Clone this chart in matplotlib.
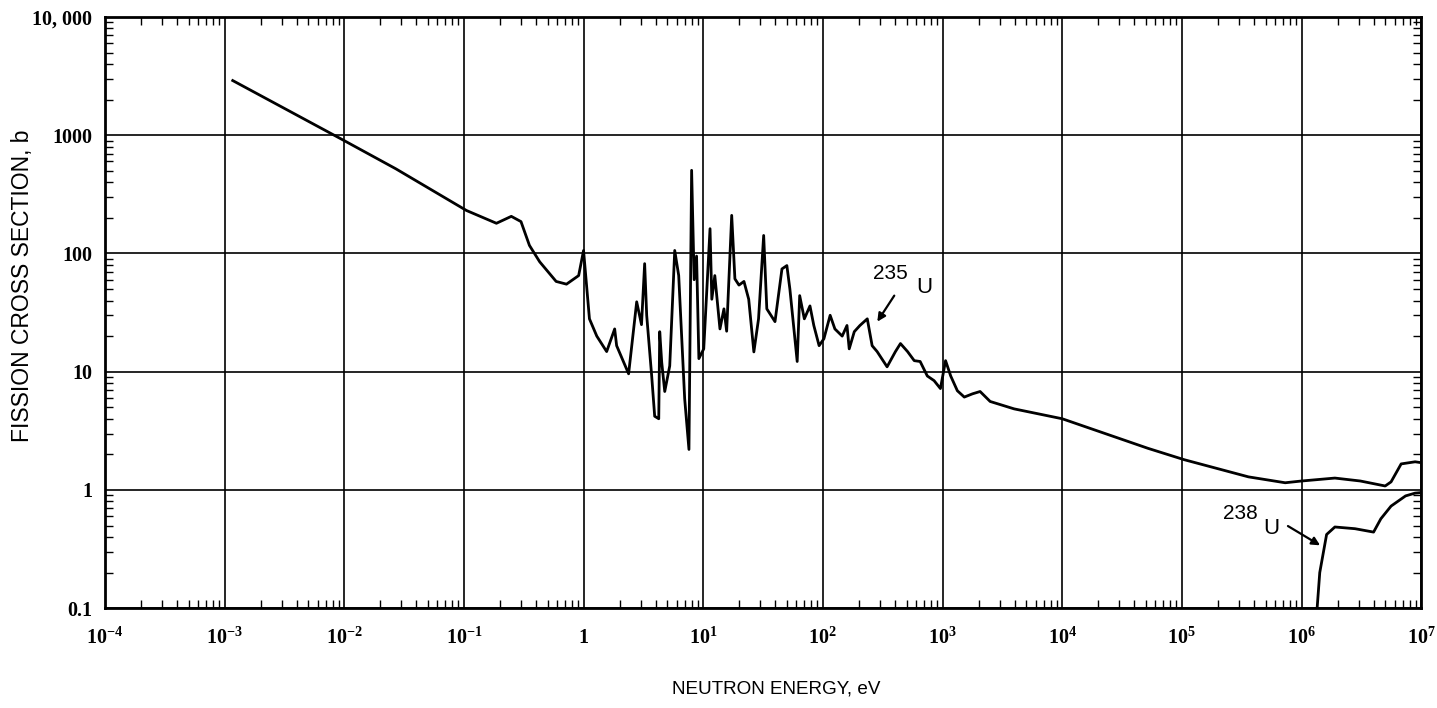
import matplotlib
matplotlib.use("Agg")
import matplotlib.pyplot as plt
from matplotlib.ticker import LogLocator, FixedLocator, NullFormatter

# ---- data ----
u235_energy = [1.17e-3, 1e-2, 0.027, 0.105, 0.187, 0.249, 0.30, 0.353, 0.43, 0.59,
               0.72, 0.91, 1.0, 1.12, 1.29, 1.56, 1.82, 1.89, 2.38, 2.78,
               3.05, 3.24, 3.37, 3.71, 3.93, 4.25, 4.33, 4.5, 4.77, 5.25,
               5.78, 6.24, 7.0, 7.6, 8.0, 8.4, 8.8, 9.2, 10.1, 11.4,
               11.8, 12.5, 13.8, 14.9, 15.7, 17.3, 18.4, 19.9, 21.9, 24,
               26.5, 29, 32, 34, 39.8, 45.5, 50, 53, 61, 64,
               70, 78, 84, 93, 102, 115, 126, 145, 159, 166,
               183, 204, 235, 258, 284, 344, 404, 445, 510, 580,
               650, 746, 850, 960, 1060, 1170, 1330, 1520, 1780, 2060,
               2500, 3960, 1e4, 5.2e4, 1.05e5, 3.6e5, 7.3e5, 1e6, 1.9e6, 3.1e6,
               5.0e6, 5.6e6, 6.8e6, 8.9e6, 1e7]
u235_sigma = [2900, 900, 520, 231, 180, 206, 186, 117, 85, 58,
              55, 65, 106, 28, 20, 14.8, 23, 16.6, 9.6, 39,
              25, 82, 30, 9.2, 4.2, 4.0, 21.8, 12, 6.8, 11.2,
              106, 65, 5.9, 2.2, 505, 60, 95, 12.9, 15.6, 162,
              41, 65, 23, 34, 22, 210, 61, 54, 58, 41,
              14.7, 28, 142, 34, 26.5, 74, 79, 50, 12.2, 44,
              28, 36, 24.6, 16.6, 19, 30, 23, 20, 24.6, 15.6,
              21.8, 24.6, 28, 16.6, 14.8, 11, 14.8, 17.3, 14.8, 12.4,
              12.2, 9.2, 8.4, 7.2, 12.4, 9.2, 6.9, 6.1, 6.5, 6.8,
              5.6, 4.85, 4.0, 2.25, 1.8, 1.29, 1.15, 1.19, 1.26, 1.19,
              1.08, 1.17, 1.66, 1.73, 1.7]

u238_energy = [1.3e6, 1.35e6, 1.42e6, 1.62e6, 1.9e6, 2.8e6, 4.0e6, 4.6e6, 5.6e6, 7.4e6, 8.9e6, 1e7]
u238_sigma = [0.07, 0.1, 0.2, 0.42, 0.486, 0.47, 0.44, 0.57, 0.73, 0.89, 0.94, 0.95]

x_ticks = [1e-4, 1e-3, 1e-2, 1e-1, 1, 1e1, 1e2, 1e3, 1e4, 1e5, 1e6, 1e7]
x_tick_labels = [r'$\mathregular{10^{-4}}$', r'$\mathregular{10^{-3}}$', r'$\mathregular{10^{-2}}$',
                 r'$\mathregular{10^{-1}}$', '1', r'$\mathregular{10^{1}}$', r'$\mathregular{10^{2}}$',
                 r'$\mathregular{10^{3}}$', r'$\mathregular{10^{4}}$', r'$\mathregular{10^{5}}$',
                 r'$\mathregular{10^{6}}$', r'$\mathregular{10^{7}}$']
y_ticks = [0.1, 1, 10, 100, 1000, 10000]
y_tick_labels = ['0.1', '1', '10', '100', '1000', '10, 000']

plt.rcParams['mathtext.fontset'] = 'custom'
plt.rcParams['mathtext.rm'] = 'Liberation Serif:bold'

# ---- figure ----
fig = plt.figure(figsize=(14.37, 7.08), dpi=100)
ax = fig.add_axes([0.073, 0.141, 0.916, 0.835])

ax.set_xscale('log')
ax.set_yscale('log')
ax.set_xlim(1e-4, 1e7)
ax.set_ylim(0.1, 1e4)

ax.plot(u235_energy, u235_sigma, color='black', lw=2.0, solid_joinstyle='round')
ax.plot(u238_energy, u238_sigma, color='black', lw=2.0, clip_on=True)

ax.xaxis.set_major_locator(FixedLocator(x_ticks))
ax.set_xticklabels(x_tick_labels)
ax.yaxis.set_major_locator(FixedLocator(y_ticks))
ax.set_yticklabels(y_tick_labels)
ax.xaxis.set_minor_locator(LogLocator(base=10, subs=range(2, 10), numticks=30))
ax.yaxis.set_minor_locator(LogLocator(base=10, subs=range(2, 10), numticks=30))
ax.xaxis.set_minor_formatter(NullFormatter())
ax.yaxis.set_minor_formatter(NullFormatter())

ax.grid(True, which='major', color='black', lw=1.2)
ax.tick_params(which='both', direction='in', top=True, right=True, color='black')
ax.tick_params(which='major', length=0)
ax.tick_params(axis='x', which='major', pad=14)
ax.tick_params(axis='y', which='major', pad=9)
ax.tick_params(which='minor', length=6, width=1.0)
for lab in ax.get_xticklabels() + ax.get_yticklabels():
    lab.set_fontfamily('Liberation Serif')
    lab.set_fontsize(14.5)
    lab.set_fontweight('bold')
for s in ax.spines.values():
    s.set_linewidth(2.0)
    s.set_color('black')

ax.set_xlabel('NEUTRON ENERGY, eV', fontfamily='Liberation Sans', fontsize=13.6)
ax.xaxis.set_label_coords(0.51, -0.122)
ax.set_ylabel('FISSION CROSS SECTION, b', fontfamily='Liberation Sans', fontsize=16.5)
ax.yaxis.set_label_coords(-0.054, 0.545)

# annotations
ax.text(366, 68, '235', fontfamily='Liberation Sans', fontsize=15, ha='center', va='center')
ax.text(705, 52, 'U', fontfamily='Liberation Sans', fontsize=16, ha='center', va='center')
ax.annotate('', xy=(285, 26.5), xytext=(395, 44),
            arrowprops=dict(arrowstyle='-|>', color='black', lw=1.6, mutation_scale=12,
                            shrinkA=0, shrinkB=0))
ax.text(3.06e5, 0.63, '238', fontfamily='Liberation Sans', fontsize=15, ha='center', va='center')
ax.text(5.56e5, 0.47, 'U', fontfamily='Liberation Sans', fontsize=16, ha='center', va='center')
ax.annotate('', xy=(1.43e6, 0.34), xytext=(7.7e5, 0.495),
            arrowprops=dict(arrowstyle='-|>', color='black', lw=1.6, mutation_scale=12,
                            shrinkA=0, shrinkB=0))

fig.savefig('out.png', dpi=100, facecolor='white')
